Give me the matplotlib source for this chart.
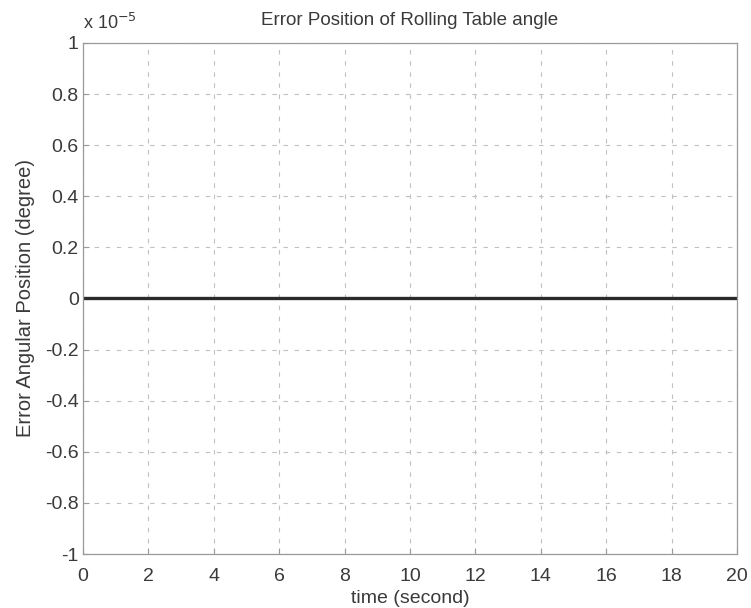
import numpy as np
import matplotlib
matplotlib.use('Agg')
import matplotlib.pyplot as plt
from matplotlib.ticker import FuncFormatter

# error of the rolling table angle over the run (stays at zero)
time_s = [0, 20]
error_deg = [0.0, 0.0]

x_ticks = np.arange(0, 21, 2)
y_ticks = np.arange(-1.0, 1.01, 0.2) * 1e-5
scale = 1e-5

plt.rcParams['font.family'] = ['Liberation Sans', 'DejaVu Sans']
text_color = '#3a3a3a'


def fmt_y(v, pos):
    v = round(v / scale, 6)
    if v == 0:
        return '0'
    return '%g' % v


fig = plt.figure(figsize=(7.51, 6.08), dpi=100)
ax = fig.add_axes([0.1105, 0.0888, 0.8709, 0.8405])

ax.plot(time_s, error_deg, color='#2b2b2b', linewidth=2.4)

ax.set_xlim(0, 20)
ax.set_ylim(-1e-5, 1e-5)
ax.set_xticks(x_ticks)
ax.set_yticks(y_ticks)
ax.yaxis.set_major_formatter(FuncFormatter(fmt_y))

ax.grid(True, linestyle=(0, (4, 6)), color='#c0c0c0', linewidth=0.8)
for s in ax.spines.values():
    s.set_color('#9a9a9a')
    s.set_linewidth(0.9)
ax.tick_params(direction='in', length=4, color='#9a9a9a', labelsize=14,
               labelcolor=text_color)
ax.tick_params(axis='x', pad=10)
ax.tick_params(axis='y', pad=3)

ax.set_title('Error Position of Rolling Table angle', fontsize=13.5,
             color=text_color, pad=13)
ax.set_xlabel('time (second)', fontsize=14, color=text_color, labelpad=4)
ax.set_ylabel('Error Angular Position (degree)', fontsize=14.5, color=text_color,
              labelpad=7)
ax.text(0.0, 1.02, r'x 10$^{-5}$', transform=ax.transAxes, fontsize=13,
        color=text_color, ha='left', va='bottom')

fig.savefig('out.png', dpi=100, facecolor='white')
